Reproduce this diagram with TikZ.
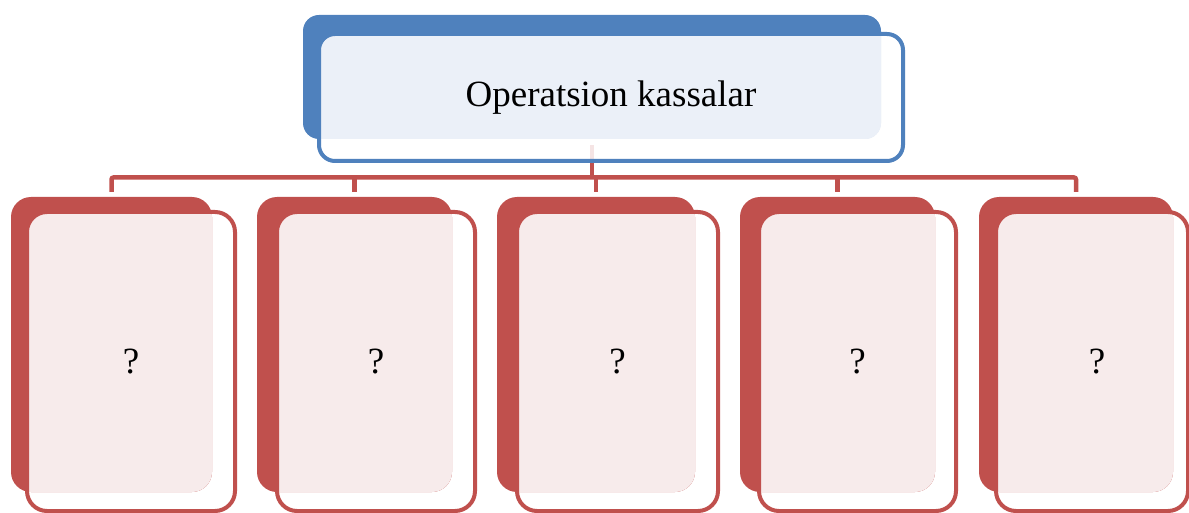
\documentclass[tikz,border=0pt]{standalone}
\usepackage{fontspec}
\setmainfont{Liberation Serif}
\definecolor{cblue}{HTML}{4F81BD}
\definecolor{cred}{HTML}{C0504D}
\definecolor{lblue}{HTML}{EBF0F8}
\definecolor{lred}{HTML}{F7EBEB}
\tikzset{
  backbox/.style={rectangle, rounded corners=20pt, inner sep=0pt, fill=#1},
  frontbox/.style={rectangle, rounded corners=20pt, inner sep=0pt, draw=#1, line width=4pt,
    font=\fontsize{37}{44}\selectfont},
  conn/.style={draw=cred, line width=4.5pt},
}
\begin{document}
\begin{tikzpicture}[x=1pt,y=-1pt]
\useasboundingbox (0,0) rectangle (1189,513);
% top box back
\node[backbox=cblue, rounded corners=16pt, minimum width=578pt, minimum height=124pt] (tb) at (592,77) {};
% bottom boxes
\foreach \i/\bl/\br/\oL/\oR/\tx in {1/11/212/27/235/0, 2/257/452/277/475/0, 3/497/695/517/718/0, 4/740/935/759/956/0, 5/979/1173/996/1188/5}{
  \node[backbox=cred, minimum width={(\br-\bl)*1pt}, minimum height=295pt] (b\i) at ({(\bl+\br)/2},344.5) {};
  \begin{scope}
    \clip[rounded corners=20pt] (\bl,197) rectangle (\br,492);
    \fill[lred, rounded corners=20pt] (\oL,212) rectangle (\oR,511);
  \end{scope}
  \node[frontbox=cred, minimum width={(\oR-\oL)*1pt}, minimum height=299pt] (o\i) at ({(\oL+\oR)/2},361.5) {\hspace*{\tx pt}\hspace*{\tx pt}\raisebox{-3pt}{?}};
}
% connectors
\coordinate (bus) at (592,177.5);
\draw[conn] ([yshift=-6pt]tb.south) -- (bus);
\draw[conn, rounded corners=2pt] ([yshift=5pt]b1.north) |- (bus) -| ([yshift=5pt]b5.north);
\foreach \i in {2,3,4}{
  \draw[conn] (bus -| b\i.north) -- ([yshift=5pt]b\i.north);
}
% top box front
\fill[white, opacity=0.85, rounded corners=16pt] (319,34) rectangle (903,161);
\begin{scope}
  \clip[rounded corners=16pt] (303,15) rectangle (881,139);
  \fill[lblue, rounded corners=16pt] (319,34) rectangle (903,161);
\end{scope}
\node[frontbox=cblue, rounded corners=16pt, minimum width=584pt, minimum height=127pt] (tf) at (611,97.5) {Operatsion kassalar};
\end{tikzpicture}
\end{document}
